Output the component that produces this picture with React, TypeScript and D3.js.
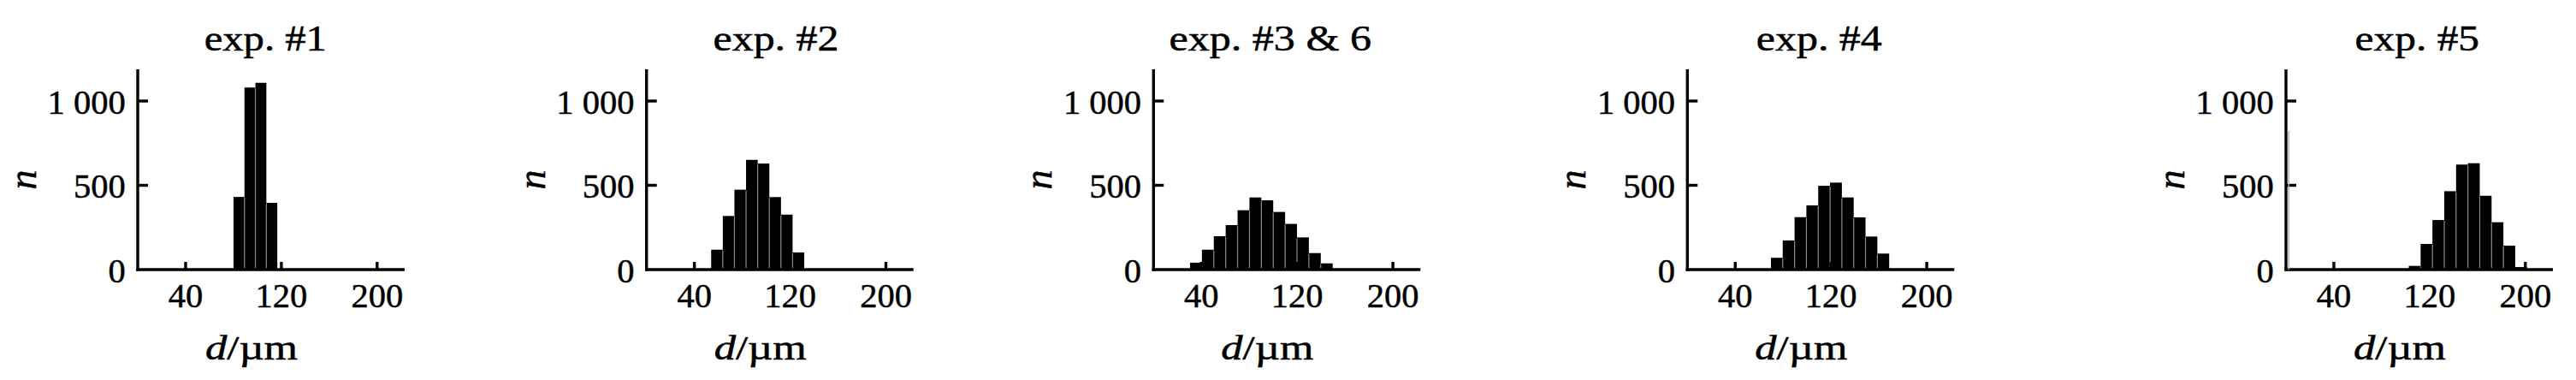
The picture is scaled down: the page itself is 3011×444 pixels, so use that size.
import React from "react";
import * as d3 from "d3";

// ---- data ----
const titles = ["exp. #1", "exp. #2", "exp. #3 & 6", "exp. #4", "exp. #5"];
const binStarts = [80, 54, 30.5, 69.8, 102.6];
const binWidths = [9.15, 9.72, 9.93, 9.88, 9.88];
const counts1 = [431, 1080, 1108, 396];
const counts2 = [118, 318, 474, 651, 629, 430, 326, 102];
const counts3 = [41, 118, 198, 264, 352, 428, 411, 342, 271, 191, 98, 37];
const counts4 = [70, 173, 311, 381, 497, 516, 428, 310, 196, 95];
const counts5 = [22, 152, 294, 465, 623, 631, 438, 281, 142, 15];
const allCounts = [counts1, counts2, counts3, counts4, counts5];
const xTicks = [40, 120, 200];
const yTicks = [0, 500, 1000];
const xDomain = [0, 223];
const yDomain = [0, 1188];
const xLabelItalic = "d";
const xLabelRest = "/\u00B5m";
const yLabel = "n";

// ---- layout ----
const W = 3011;
const H = 444;
const axisX = [161, 755.7, 1348.3, 1972.3, 2672];
const titleCx = [310.3, 907, 1484.7, 2126.3, 2825.3];
const titleW = [143.3, 147, 236.6, 147, 145.6];
const plotTop = 81;
const baseY = 315;
const plotW = 312;
const FONT = "'Liberation Serif', 'Times New Roman', serif";
const AXW = 3.4;
const TXT_STROKE = 0.5;

const fmt = (v: number) => d3.format(",")(v).replace(/,/g, " ");

function Panel({ i }: { i: number }) {
  const x0 = axisX[i];
  const x = d3.scaleLinear().domain(xDomain).range([x0, x0 + plotW]);
  const y = d3.scaleLinear().domain(yDomain).range([baseY, plotTop]);
  const counts = allCounts[i];
  const bins = counts.map((c, k) => ({
    a: binStarts[i] + k * binWidths[i],
    b: binStarts[i] + (k + 1) * binWidths[i],
    c,
  }));
  return (
    <g>
      <text
        x={titleCx[i]}
        y={59.3}
        textAnchor="middle"
        fontSize={42}
        textLength={titleW[i]}
        lengthAdjust="spacingAndGlyphs"
      >
        {titles[i]}
      </text>
      {bins.map((d, k) => (
        <rect
          key={k}
          x={x(d.a)}
          y={y(d.c)}
          width={x(d.b) - x(d.a)}
          height={baseY - y(d.c)}
          fill="#000"
          stroke="none"
        />
      ))}
      {bins.slice(1).map((d, k) => (
        <line
          key={"s" + k}
          x1={x(d.a)}
          x2={x(d.a)}
          y1={baseY - 2}
          y2={y(Math.min(d.c, bins[k].c)) + 1}
          stroke="#8a8a8a"
          strokeWidth={1.2}
        />
      ))}
      {/* axes */}
      <line x1={x0} x2={x0} y1={plotTop} y2={baseY + AXW / 2} stroke="#000" strokeWidth={AXW} />
      <line x1={x0 - AXW / 2} x2={x0 + plotW} y1={baseY} y2={baseY} stroke="#000" strokeWidth={AXW} />
      {xTicks.map((t) => (
        <g key={"xt" + t}>
          <line x1={x(t)} x2={x(t)} y1={baseY} y2={baseY - 9} stroke="#000" strokeWidth={AXW} />
          <text x={x(t)} y={359.3} textAnchor="middle" fontSize={40.5}>
            {fmt(t)}
          </text>
        </g>
      ))}
      {yTicks.map((t) => (
        <g key={"yt" + t}>
          {t > 0 && (
            <line x1={x0} x2={x0 + 12} y1={y(t)} y2={y(t)} stroke="#000" strokeWidth={AXW} />
          )}
          <text x={x0 - 14.3} y={y(t) + 14.5} textAnchor="end" fontSize={40.5}>
            {fmt(t)}
          </text>
        </g>
      ))}
      <text
        x={x0 + 133}
        y={420}
        textAnchor="middle"
        fontSize={40}
        textLength={108}
        lengthAdjust="spacingAndGlyphs"
      >
        <tspan fontStyle="italic">{xLabelItalic}</tspan>
        <tspan>{xLabelRest}</tspan>
      </text>
      <text
        transform={`translate(${x0 - 119},210) rotate(-90)`}
        textAnchor="middle"
        fontStyle="italic"
        fontSize={46}
      >
        {yLabel}
      </text>
    </g>
  );
}

export default function App() {
  return (
    <svg
      width={W}
      height={H}
      viewBox={`0 0 ${W} ${H}`}
      style={{ position: "absolute", left: 0, top: 0, background: "#fff", display: "block" }}
    >
      <rect x={0} y={0} width={W} height={H} fill="#fff" />
      <g fontFamily={FONT} fill="#000" stroke="#000" strokeWidth={TXT_STROKE}>
        {titles.map((_, i) => (
          <Panel key={i} i={i} />
        ))}
      </g>
      {/* faint grey line artefact next to the last panel's y axis */}
      <line x1={2675.3} x2={2675.3} y1={153} y2={baseY} stroke="#b0b0b0" strokeWidth={1.4} />
    </svg>
  );
}
